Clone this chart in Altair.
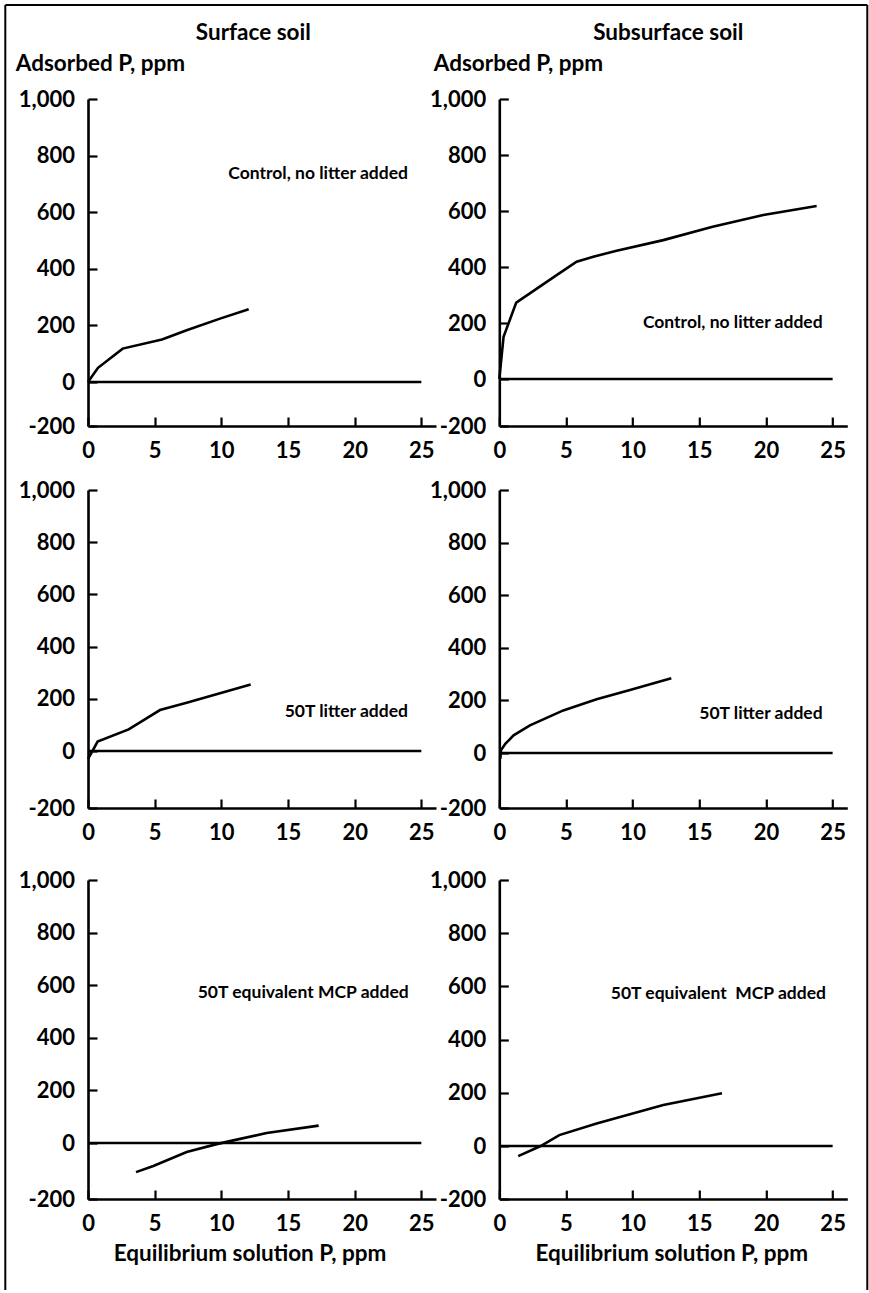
import altair as alt
import pandas as pd

FONT = "Lato"

# ---------------- data ----------------
# Surface soil
surf_ctrl_x = [0, 0.75, 2.6, 5.55, 7.4, 9.9, 12.05]
surf_ctrl_y = [0, 50, 118, 150, 183, 224, 257]
surf_litter_x = [0, 0.3, 0.72, 3.05, 5.4, 7.4, 9.7, 12.2]
surf_litter_y = [-28, -3, 36, 83, 157, 185, 218, 255]
surf_mcp_x = [3.6, 4.9, 7.4, 9.65, 10.9, 13.4, 17.3]
surf_mcp_y = [-104, -82, -32, -4, 10, 38, 66]
# Subsurface soil
sub_ctrl_x = [0, 0.32, 1.27, 4.3, 5.8, 7.05, 8.8, 12.3, 16, 19.8, 23.8]
sub_ctrl_y = [0, 151, 273, 371, 419, 437, 458, 496, 544, 586, 618]
sub_litter_x = [0.08, 0.12, 0.45, 1.07, 2.3, 4.8, 7.3, 9.8, 12.9]
sub_litter_y = [-21, 10, 35, 67, 105, 162, 204, 240, 284]
sub_mcp_x = [1.42, 3.1, 4.5, 7.3, 12.3, 16.7]
sub_mcp_y = [-38, 0, 41, 85, 154, 198]

col_titles = ["Surface soil", "Subsurface soil"]
panel_labels = ["Control, no litter added", "Control, no litter added",
                "50T litter added", "50T litter added",
                "50T equivalent MCP added", "50T equivalent\u00a0 MCP added"]
label_x = [24.0, 24.25, 24.0, 24.25, 24.05, 24.5]
label_y = [735, 200, 150, 150, 570, 570]

x_ticks = [0, 5, 10, 15, 20, 25]
y_ticks = [-200, 0, 200, 400, 600, 800, 1000]
y_title = "Adsorbed P, ppm"
x_title = "Equilibrium solution P, ppm"
zero_line_x = [0, 25]
X_MAX = 26.1

W = 348
LBL_EXPR = "datum.value < 0 ? '-' + format(abs(datum.value), ',') : format(datum.value, ',')"


def panel(xs, ys, idx, H, plot_h, z, xoff, row, col):
    xscale = alt.Scale(domain=[0, X_MAX], nice=False, zero=False)
    yscale = alt.Scale(domain=[-200, 0, 1000], range=[H, z, 0], nice=False, zero=False)

    yaxis_kw = dict(values=y_ticks, tickSize={"expr": "-9"}, labelPadding=22.5,
                    labelExpr=LBL_EXPR, labelFont=FONT, labelFontSize=22,
                    labelFontWeight="bold", labelColor="black", labelFlush=False,
                    labelOverlap=False, domainColor="black", domainWidth=2.6,
                    tickColor="black", tickWidth=2.2, grid=False)
    xaxis_kw = dict(values=x_ticks, tickSize={"expr": "-9"}, labelPadding=23,
                    labelFont=FONT, labelFontSize=22, labelFontWeight="bold",
                    labelColor="black", labelFlush=False, labelOverlap=False,
                    domainColor="black", domainWidth=2.6, tickColor="black",
                    tickWidth=2.2, grid=False, offset=xoff)
    if row == 0:
        yaxis_kw.update(title=y_title, titleAngle=0, titleX=-72.7 if col == 0 else -66,
                        titleY=-36, titleAlign="left", titleBaseline="middle",
                        titleFont=FONT, titleFontSize=22.5, titleFontWeight="bold",
                        titleColor="black")
    if row == 2:
        xaxis_kw.update(title=x_title, titleX=161.5 if col == 0 else 172, titleY=54,
                        titleAlign="center", titleBaseline="middle", titleAngle=0,
                        titleFont=FONT, titleFontSize=22.5, titleFontWeight="bold",
                        titleColor="black")

    if row == 2:
        xenc = alt.X("x:Q", scale=xscale, axis=alt.Axis(**xaxis_kw))
    else:
        xenc = alt.X("x:Q", scale=xscale, axis=alt.Axis(**xaxis_kw), title=None)
    if row == 0:
        yenc = alt.Y("y:Q", scale=yscale, axis=alt.Axis(**yaxis_kw))
    else:
        yenc = alt.Y("y:Q", scale=yscale, axis=alt.Axis(**yaxis_kw), title=None)

    df = pd.DataFrame({"x": xs, "y": ys})
    line = alt.Chart(df).mark_line(color="black", strokeWidth=2.6).encode(x=xenc, y=yenc)

    zdf = pd.DataFrame({"x": [zero_line_x[0]], "x2": [zero_line_x[1]], "y": [0]})
    zero = alt.Chart(zdf).mark_rule(color="black", strokeWidth=2.5).encode(
        x=alt.X("x:Q", scale=xscale), x2="x2:Q", y=alt.Y("y:Q", scale=yscale))

    tdf = pd.DataFrame({"x": [label_x[idx]], "y": [label_y[idx]], "t": [panel_labels[idx]]})
    text = alt.Chart(tdf).mark_text(align="right", baseline="middle", font=FONT,
                                    fontSize=17.5, fontWeight="bold", color="black").encode(
        x=alt.X("x:Q", scale=xscale), y=alt.Y("y:Q", scale=yscale), text="t:N")

    layers = [line, zero, text]

    if row == 0:
        hdf = pd.DataFrame({"t": [col_titles[col]]})
        head = alt.Chart(hdf).mark_text(align="center", baseline="middle", font=FONT,
                                        fontSize=22.5, fontWeight="bold", color="black").encode(
            x=alt.value(165.3 if col == 0 else 169), y=alt.value(-66), text="t:N")
        layers.append(head)
        if col == 0:
            bdf = pd.DataFrame({"k": [1]})
            bl = alt.Chart(bdf).mark_rule(color="black", strokeWidth=2).encode(
                x=alt.value(-82.7), y=alt.value(-94), y2=alt.value(1191))
            bt = alt.Chart(bdf).mark_rule(color="black", strokeWidth=2).encode(
                x=alt.value(-82.7), x2=alt.value(779.3), y=alt.value(-94))
            br = alt.Chart(bdf).mark_rule(color="black", strokeWidth=2).encode(
                x=alt.value(779.3), y=alt.value(-94), y2=alt.value(1191))
            layers += [bl, bt, br]

    return alt.layer(*layers).properties(width=W, height=plot_h)


panels = [
    panel(surf_ctrl_x, surf_ctrl_y, 0, 327, 327, 283, 0, 0, 0),
    panel(sub_ctrl_x, sub_ctrl_y, 1, 327, 327, 280, 0, 0, 1),
    panel(surf_litter_x, surf_litter_y, 2, 318, 326, 261, -8, 1, 0),
    panel(sub_litter_x, sub_litter_y, 3, 318, 326, 263, -8, 1, 1),
    panel(surf_mcp_x, surf_mcp_y, 4, 319, 319, 263, 0, 2, 0),
    panel(sub_mcp_x, sub_mcp_y, 5, 319, 319, 266, 0, 2, 1),
]

chart = alt.concat(*panels, columns=2, spacing={"row": 64, "column": 63.3},
                   bounds="flush").properties(
    padding={"left": 4, "top": 4, "right": 0, "bottom": 0},
    background="white",
).configure_view(stroke=None)

chart.save("out.html", embed_options={"renderer": "svg", "actions": False})
